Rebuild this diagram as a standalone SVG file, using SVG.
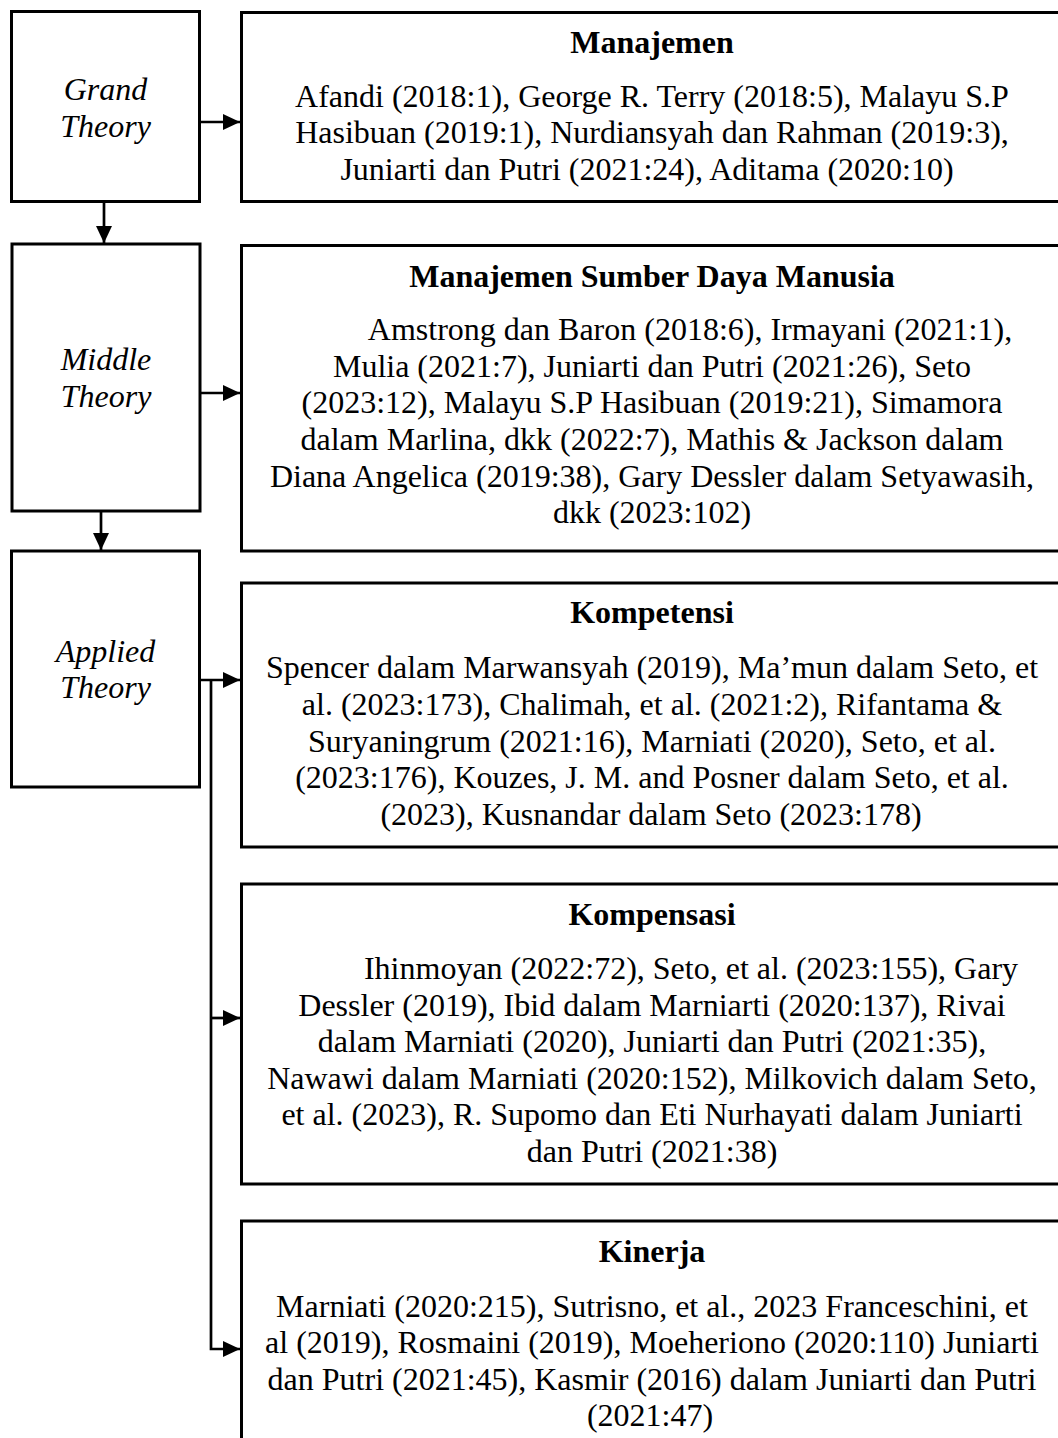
<svg xmlns="http://www.w3.org/2000/svg" width="1058" height="1438" viewBox="0 0 1058 1438">
<style>
.box{fill:#fff;stroke:#000;stroke-width:3}
.lbl{font-family:"Liberation Serif","Times New Roman",serif;font-size:32px;font-style:italic;text-anchor:middle;fill:#000}
.ttl{font-family:"Liberation Serif","Times New Roman",serif;font-size:32px;font-weight:bold;text-anchor:middle;fill:#000}
.txt{font-family:"Liberation Serif","Times New Roman",serif;font-size:32px;text-anchor:middle;fill:#000}
.con{fill:none;stroke:#000;stroke-width:2.7}
</style>
<defs>
<marker id="ah" markerUnits="userSpaceOnUse" markerWidth="18" markerHeight="16" refX="17" refY="8" orient="auto">
<path d="M0,0 L17,8 L0,16 Z" fill="#000"/>
</marker>
</defs>
<rect width="1058" height="1438" fill="#fff"/>
<g id="grand">
<rect class="box" x="11.5" y="11.5" width="188" height="190"/>
<text class="lbl" x="105.5" y="100">Grand</text>
<text class="lbl" x="105.5" y="137">Theory</text>
</g>
<g id="middle">
<rect class="box" x="12" y="244" width="188" height="267"/>
<text class="lbl" x="106" y="370">Middle</text>
<text class="lbl" x="106" y="407">Theory</text>
</g>
<g id="applied">
<rect class="box" x="11.5" y="551" width="188" height="236"/>
<text class="lbl" x="105.5" y="662">Applied</text>
<text class="lbl" x="105.5" y="698">Theory</text>
</g>
<g id="manajemen">
<rect class="box" x="241.5" y="12.5" width="822" height="189"/>
<text class="ttl" x="652" y="53">Manajemen</text>
<text class="txt" x="652" y="107">Afandi (2018:1), George R. Terry (2018:5), Malayu S.P</text>
<text class="txt" x="652" y="143">Hasibuan (2019:1), Nurdiansyah dan Rahman (2019:3),</text>
<text class="txt" x="647" y="180">Juniarti dan Putri (2021:24), Aditama (2020:10)</text>
</g>
<g id="msdm">
<rect class="box" x="241.5" y="245.5" width="822" height="305.5"/>
<text class="ttl" x="652" y="287">Manajemen Sumber Daya Manusia</text>
<text class="txt" x="690" y="340">Amstrong dan Baron (2018:6), Irmayani (2021:1),</text>
<text class="txt" x="652" y="377">Mulia (2021:7), Juniarti dan Putri (2021:26), Seto</text>
<text class="txt" x="652" y="413">(2023:12), Malayu S.P Hasibuan (2019:21), Simamora</text>
<text class="txt" x="652" y="450">dalam Marlina, dkk (2022:7), Mathis &amp; Jackson dalam</text>
<text class="txt" x="652" y="487">Diana Angelica (2019:38), Gary Dessler dalam Setyawasih,</text>
<text class="txt" x="652" y="523">dkk (2023:102)</text>
</g>
<g id="kompetensi">
<rect class="box" x="241.5" y="583" width="822" height="264"/>
<text class="ttl" x="652" y="623">Kompetensi</text>
<text class="txt" x="652" y="678">Spencer dalam Marwansyah (2019), Ma’mun dalam Seto, et</text>
<text class="txt" x="652" y="715">al. (2023:173), Chalimah, et al. (2021:2), Rifantama &amp;</text>
<text class="txt" x="652" y="752">Suryaningrum (2021:16), Marniati (2020), Seto, et al.</text>
<text class="txt" x="652" y="788">(2023:176), Kouzes, J. M. and Posner dalam Seto, et al.</text>
<text class="txt" x="651" y="825">(2023), Kusnandar dalam Seto (2023:178)</text>
</g>
<g id="kompensasi">
<rect class="box" x="241.5" y="884" width="822" height="300"/>
<text class="ttl" x="652" y="925">Kompensasi</text>
<text class="txt" x="691" y="979">Ihinmoyan (2022:72), Seto, et al. (2023:155), Gary</text>
<text class="txt" x="652" y="1016">Dessler (2019), Ibid dalam Marniarti (2020:137), Rivai</text>
<text class="txt" x="652" y="1052">dalam Marniati (2020), Juniarti dan Putri (2021:35),</text>
<text class="txt" x="652" y="1089">Nawawi dalam Marniati (2020:152), Milkovich dalam Seto,</text>
<text class="txt" x="652" y="1125">et al. (2023), R. Supomo dan Eti Nurhayati dalam Juniarti</text>
<text class="txt" x="652" y="1162">dan Putri (2021:38)</text>
</g>
<g id="kinerja">
<rect class="box" x="241.5" y="1221" width="822" height="260"/>
<text class="ttl" x="652" y="1262">Kinerja</text>
<text class="txt" x="652" y="1317">Marniati (2020:215), Sutrisno, et al., 2023 Franceschini, et</text>
<text class="txt" x="652" y="1353">al (2019), Rosmaini (2019), Moeheriono (2020:110) Juniarti</text>
<text class="txt" x="652" y="1390">dan Putri (2021:45), Kasmir (2016) dalam Juniarti dan Putri</text>
<text class="txt" x="650" y="1426">(2021:47)</text>
</g>
<g id="connectors">
<path class="con" d="M199.5,122 H240" marker-end="url(#ah)"/>
<path class="con" d="M104,201.5 V243" marker-end="url(#ah)"/>
<path class="con" d="M200,393 H240" marker-end="url(#ah)"/>
<path class="con" d="M101,511 V550" marker-end="url(#ah)"/>
<path class="con" d="M199.5,680 H240" marker-end="url(#ah)"/>
<path class="con" d="M211,680 V1349 H240" marker-end="url(#ah)"/>
<path class="con" d="M211,1018 H240" marker-end="url(#ah)"/>
</g>
</svg>
